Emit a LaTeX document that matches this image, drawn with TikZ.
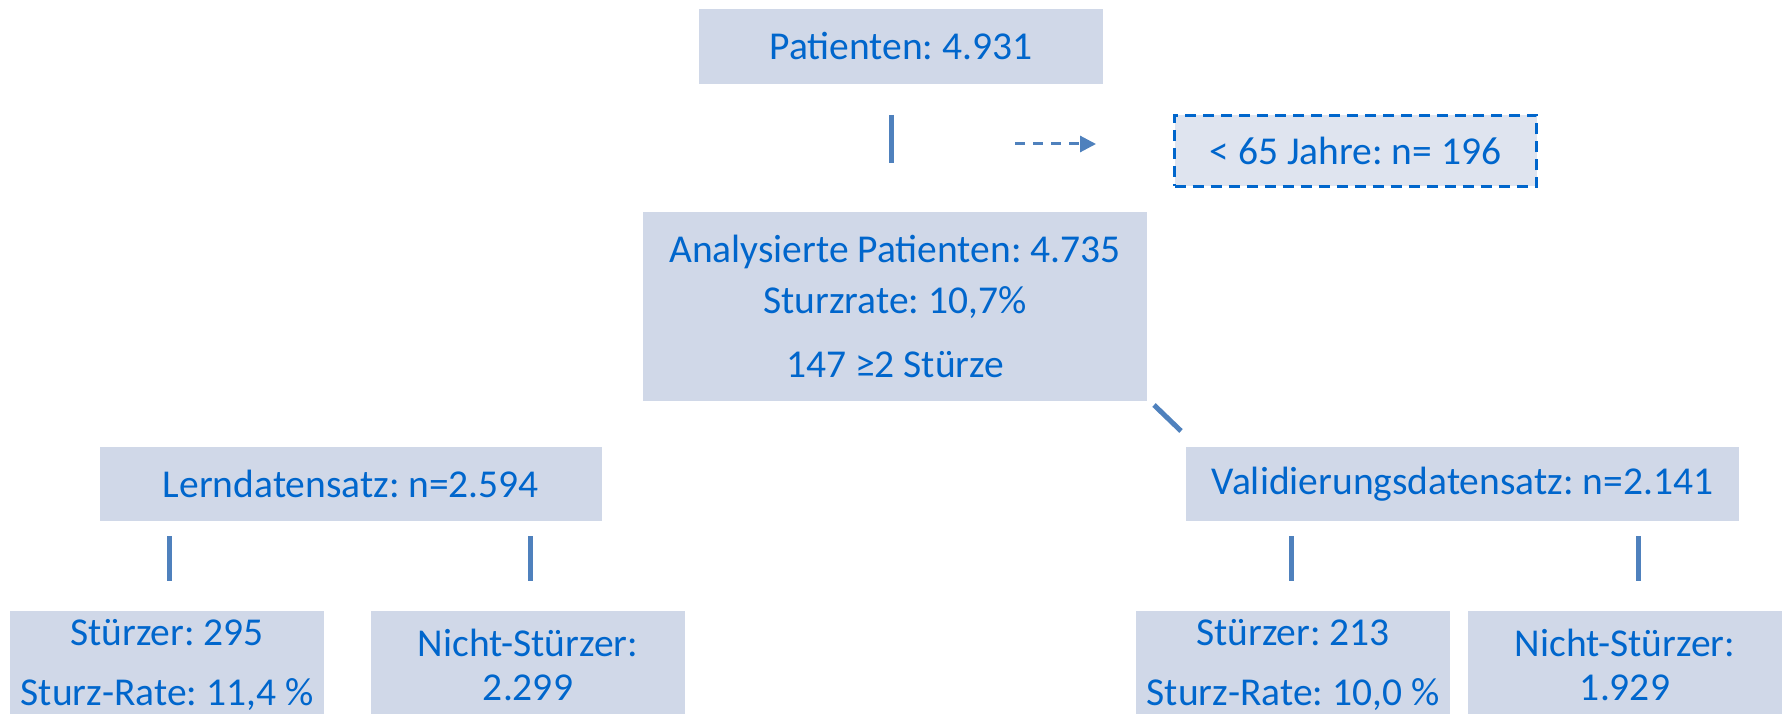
\documentclass[tikz,border=0pt]{standalone}
\usepackage{fontspec}
\setmainfont{Carlito}
\frenchspacing
\usetikzlibrary{arrows.meta}
\definecolor{boxfill}{HTML}{D0D8E8}
\definecolor{boxfilllight}{HTML}{DFE4EF}
\definecolor{txtblue}{HTML}{0066CC}
\definecolor{linkblue}{HTML}{4F81BD}
\begin{document}
\begin{tikzpicture}[x=1pt,y=-1pt,
  box/.style={fill=boxfill, text=txtblue, inner sep=0pt, align=center, font=\fontsize{39.5}{46}\selectfont},
  conn/.style={draw=linkblue, line width=5pt},
  dasharrow/.style={draw=linkblue, line width=3pt, dash pattern=on 10pt off 8pt, -{Triangle[length=16pt,width=16pt]}},
  youngbox/.style={box, fill=boxfilllight, draw=txtblue, line width=3pt, dash pattern=on 11pt off 7pt}
]
\clip (0,0) rectangle (1783,714);
\fill[white] (0,0) rectangle (1783,714);
% nodes
\node[box, minimum width=404pt, minimum height=75pt] (pat) at (901,46.5) {Patienten: 4.931};
\node[youngbox, minimum width=362pt, minimum height=71pt] (young) at (1355.5,151) {< 65 Jahre: n= 196};
\node[box, font=\fontsize{39.5}{51}\selectfont, minimum width=504pt, minimum height=189pt] (ana) at (895,306.5) {Analysierte Patienten: 4.735\\Sturzrate: 10,7\%\\[13pt]147 ≥2 Stürze};
\node[box, minimum width=502pt, minimum height=74pt] (lern) at (351,484) {Lerndatensatz: n=2.594};
\node[box, minimum width=553pt, minimum height=74pt] (valid) at (1462.5,484) {Validierungsdatensatz: n=2.141};
\node[box, minimum width=314pt, minimum height=108pt] (stL) at (167,665) {Stürzer: 295\\[14pt]Sturz-Rate: 11,4 \%};
\node[box, minimum width=314pt, minimum height=108pt] (niL) at (528,665) {Nicht-Stürzer:\\[-2pt]2.299};
\node[box, minimum width=314pt, minimum height=108pt] (stR) at (1293,665) {Stürzer: 213\\[14pt]Sturz-Rate: 10,0 \%};
\node[box, minimum width=314pt, minimum height=108pt] (niR) at (1625,665) {Nicht-Stürzer:\\[-2pt]1.929};
% connector ends
\coordinate (v1a) at (891,115);  \coordinate (v1b) at (891,163);
\coordinate (a1) at (1015,144);  \coordinate (a2) at (1096,144);
\coordinate (d1) at (1154,405);  \coordinate (d2) at (1181,431);
\coordinate (l1a) at (169,536);  \coordinate (l1b) at (169,581);
\coordinate (l2a) at (530,536);  \coordinate (l2b) at (530,581);
\coordinate (r1a) at (1291,536); \coordinate (r1b) at (1291,581);
\coordinate (r2a) at (1638,536); \coordinate (r2b) at (1638,581);
% connectors
\draw[conn] (v1a) -- (v1b);
\draw[dasharrow] (a1) -- (a2);
\draw[conn] (d1) -- (d2);
\draw[conn] (l1a) -- (l1b);
\draw[conn] (l2a) -- (l2b);
\draw[conn] (r1a) -- (r1b);
\draw[conn] (r2a) -- (r2b);
\end{tikzpicture}
\end{document}
